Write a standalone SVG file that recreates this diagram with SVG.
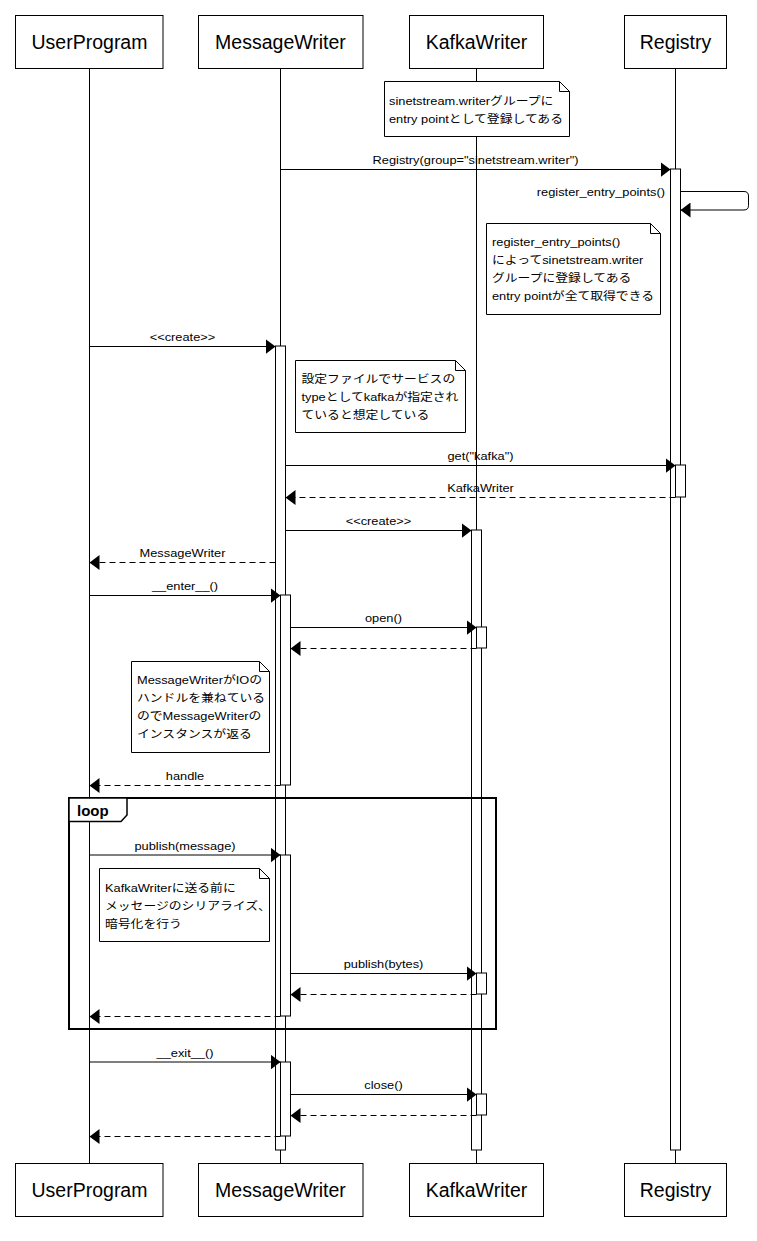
<svg xmlns="http://www.w3.org/2000/svg" width="757" height="1241" viewBox="0 0 757 1241">
<style>
.box{fill:#fff;stroke:#000;stroke-width:1}
.pt{font-family:"Liberation Sans",Arial,sans-serif;font-size:19.5px;text-anchor:middle;fill:#000}
.life{stroke:#000;stroke-width:1;fill:none}
.bar{fill:#fff;stroke:#000;stroke-width:1}
.note{fill:#fff;stroke:#000;stroke-width:1}
.fold{fill:none;stroke:#000;stroke-width:1}
.nt{font-family:"Liberation Sans","Noto Sans CJK JP",sans-serif;font-size:11px;fill:#000}
.m{font-family:"Liberation Sans","Noto Sans CJK JP",sans-serif;font-size:11px;fill:#000;text-anchor:middle}
.me{font-family:"Liberation Sans",sans-serif;font-size:11px;fill:#000;text-anchor:end}
.msg{stroke:#000;stroke-width:1;fill:none;marker-end:url(#ah)}
.ret{stroke:#000;stroke-width:1;fill:none;stroke-dasharray:6 4;marker-end:url(#ah)}
.frame{fill:none;stroke:#000;stroke-width:2}
.tab{fill:#fff;stroke:#000;stroke-width:1.5}
.lt{font-family:"Liberation Sans",Arial,sans-serif;font-size:15px;font-weight:bold;fill:#000}
</style>
<defs>
<marker id="ah" viewBox="0 0 10 15" refX="10" refY="7.5" markerWidth="10" markerHeight="15" markerUnits="userSpaceOnUse" orient="auto">
<path d="M0,0 L10,7.5 L0,15 Z" fill="#000" stroke="none"/>
</marker>
</defs>
<g id="lifelines">
<line class="life" x1="89.5" y1="68.5" x2="89.5" y2="1163.5"/>
<line class="life" x1="280.5" y1="68.5" x2="280.5" y2="1163.5"/>
<line class="life" x1="476.5" y1="68.5" x2="476.5" y2="1163.5"/>
<line class="life" x1="675.5" y1="68.5" x2="675.5" y2="1163.5"/>
</g>
<g id="UserProgram">
<rect class="box" x="15.5" y="15.5" width="147.5" height="53"/>
<text class="pt" x="89.5" y="49">UserProgram</text>
<rect class="box" x="15.5" y="1163.5" width="147.5" height="53"/>
<text class="pt" x="89.5" y="1197">UserProgram</text>
</g>
<g id="MessageWriter">
<rect class="box" x="198.5" y="15.5" width="164.5" height="53"/>
<text class="pt" x="280.5" y="49">MessageWriter</text>
<rect class="box" x="198.5" y="1163.5" width="164.5" height="53"/>
<text class="pt" x="280.5" y="1197">MessageWriter</text>
<rect class="bar" x="275.5" y="346" width="10" height="804"/>
<rect class="bar" x="280.5" y="595" width="10" height="190"/>
<rect class="bar" x="280.5" y="855" width="10" height="161"/>
<rect class="bar" x="280.5" y="1062" width="10" height="74"/>
</g>
<g id="KafkaWriter">
<rect class="box" x="409.5" y="15.5" width="134" height="53"/>
<text class="pt" x="476.5" y="49">KafkaWriter</text>
<rect class="box" x="409.5" y="1163.5" width="134" height="53"/>
<text class="pt" x="476.5" y="1197">KafkaWriter</text>
<rect class="bar" x="471.5" y="530" width="10" height="620"/>
<rect class="bar" x="476.5" y="627" width="10" height="21"/>
<rect class="bar" x="476.5" y="973" width="10" height="21"/>
<rect class="bar" x="476.5" y="1094" width="10" height="21"/>
</g>
<g id="Registry">
<rect class="box" x="624.5" y="15.5" width="102" height="53"/>
<text class="pt" x="675.5" y="49">Registry</text>
<rect class="box" x="624.5" y="1163.5" width="102" height="53"/>
<text class="pt" x="675.5" y="1197">Registry</text>
<rect class="bar" x="670.5" y="169" width="10" height="981"/>
<rect class="bar" x="675.5" y="465" width="10" height="32"/>
</g>
<g id="note1">
<path class="note" d="M384.5,81.5 H559.5 L569.5,91.5 V136.5 H384.5 Z"/>
<path class="fold" d="M559.5,81.5 V91.5 H569.5"/>
<text class="nt" transform="translate(389,105) scale(1.165,1)">sinetstream.writerグループに</text>
<text class="nt" transform="translate(389,123) scale(1.165,1)">entry pointとして登録してある</text>
</g>
<g id="note2">
<path class="note" d="M486.5,223.5 H650.5 L660.5,233.5 V314.5 H486.5 Z"/>
<path class="fold" d="M650.5,223.5 V233.5 H660.5"/>
<text class="nt" transform="translate(492,245.5) scale(1.165,1)">register_entry_points()</text>
<text class="nt" transform="translate(492,263.5) scale(1.165,1)">によってsinetstream.writer</text>
<text class="nt" transform="translate(492,281.5) scale(1.165,1)">グループに登録してある</text>
<text class="nt" transform="translate(492,299.5) scale(1.165,1)">entry pointが全て取得できる</text>
</g>
<g id="note3">
<path class="note" d="M295.5,360.5 H455.5 L465.5,370.5 V432.5 H295.5 Z"/>
<path class="fold" d="M455.5,360.5 V370.5 H465.5"/>
<text class="nt" transform="translate(301.5,383) scale(1.165,1)">設定ファイルでサービスの</text>
<text class="nt" transform="translate(301.5,401) scale(1.165,1)">typeとしてkafkaが指定され</text>
<text class="nt" transform="translate(301.5,419) scale(1.165,1)">ていると想定している</text>
</g>
<g id="note4">
<path class="note" d="M131.5,661.5 H259.5 L269.5,671.5 V752.5 H131.5 Z"/>
<path class="fold" d="M259.5,661.5 V671.5 H269.5"/>
<text class="nt" transform="translate(137,684) scale(1.165,1)">MessageWriterがIOの</text>
<text class="nt" transform="translate(137,702) scale(1.165,1)">ハンドルを兼ねている</text>
<text class="nt" transform="translate(137,720) scale(1.165,1)">のでMessageWriterの</text>
<text class="nt" transform="translate(137,738) scale(1.165,1)">インスタンスが返る</text>
</g>
<g id="note5">
<path class="note" d="M99.5,868.5 H259.5 L269.5,878.5 V941.5 H99.5 Z"/>
<path class="fold" d="M259.5,868.5 V878.5 H269.5"/>
<text class="nt" transform="translate(105,891.5) scale(1.165,1)">KafkaWriterに送る前に</text>
<text class="nt" transform="translate(105,909.5) scale(1.165,1)">メッセージのシリアライズ、</text>
<text class="nt" transform="translate(105,927.5) scale(1.165,1)">暗号化を行う</text>
</g>
<g id="loop">
<rect class="frame" x="69" y="798" width="427" height="231"/>
<path class="tab" d="M69,798 H127 V815 L121,821.5 H69 Z"/>
<text class="lt" x="77" y="816">loop</text>
</g>
<g id="connectors">
<line class="msg" x1="280.5" y1="169.5" x2="670.5" y2="169.5"/>
<text class="m" transform="translate(475.5,164) scale(1.165,1)">Registry(group="sinetstream.writer")</text>
<path class="msg" d="M680.5,191.5 H744 Q748.5,191.5 748.5,196 V205.5 Q748.5,210 744,210 H680.5"/>
<text class="me" transform="translate(665,196) scale(1.165,1)">register_entry_points()</text>
<line class="msg" x1="89.5" y1="346.5" x2="275.5" y2="346.5"/>
<text class="m" transform="translate(182.5,341) scale(1.165,1)">&lt;&lt;create&gt;&gt;</text>
<line class="msg" x1="285.5" y1="465.5" x2="675.5" y2="465.5"/>
<text class="m" transform="translate(480.5,460) scale(1.165,1)">get("kafka")</text>
<line class="ret" x1="675.5" y1="497.5" x2="285.5" y2="497.5"/>
<text class="m" transform="translate(480.5,492) scale(1.165,1)">KafkaWriter</text>
<line class="msg" x1="285.5" y1="530.5" x2="471.5" y2="530.5"/>
<text class="m" transform="translate(378.5,525) scale(1.165,1)">&lt;&lt;create&gt;&gt;</text>
<line class="ret" x1="275.5" y1="562.5" x2="89.5" y2="562.5"/>
<text class="m" transform="translate(182.5,557) scale(1.165,1)">MessageWriter</text>
<line class="msg" x1="89.5" y1="595.5" x2="280.5" y2="595.5"/>
<text class="m" transform="translate(185,590) scale(1.165,1)">__enter__()</text>
<line class="msg" x1="290.5" y1="627.5" x2="476.5" y2="627.5"/>
<text class="m" transform="translate(383.5,622) scale(1.165,1)">open()</text>
<line class="ret" x1="476.5" y1="648.5" x2="290.5" y2="648.5"/>
<line class="ret" x1="280.5" y1="785.5" x2="89.5" y2="785.5"/>
<text class="m" transform="translate(185,780) scale(1.165,1)">handle</text>
<line class="msg" x1="89.5" y1="855" x2="280.5" y2="855"/>
<text class="m" transform="translate(185,849.5) scale(1.165,1)">publish(message)</text>
<line class="msg" x1="290.5" y1="973.5" x2="476.5" y2="973.5"/>
<text class="m" transform="translate(383.5,968) scale(1.165,1)">publish(bytes)</text>
<line class="ret" x1="476.5" y1="994.5" x2="290.5" y2="994.5"/>
<line class="ret" x1="280.5" y1="1016.5" x2="89.5" y2="1016.5"/>
<line class="msg" x1="89.5" y1="1062" x2="280.5" y2="1062"/>
<text class="m" transform="translate(185,1056.5) scale(1.165,1)">__exit__()</text>
<line class="msg" x1="290.5" y1="1094.5" x2="476.5" y2="1094.5"/>
<text class="m" transform="translate(383.5,1089) scale(1.165,1)">close()</text>
<line class="ret" x1="476.5" y1="1115.5" x2="290.5" y2="1115.5"/>
<line class="ret" x1="280.5" y1="1136.5" x2="89.5" y2="1136.5"/>
</g>
</svg>
